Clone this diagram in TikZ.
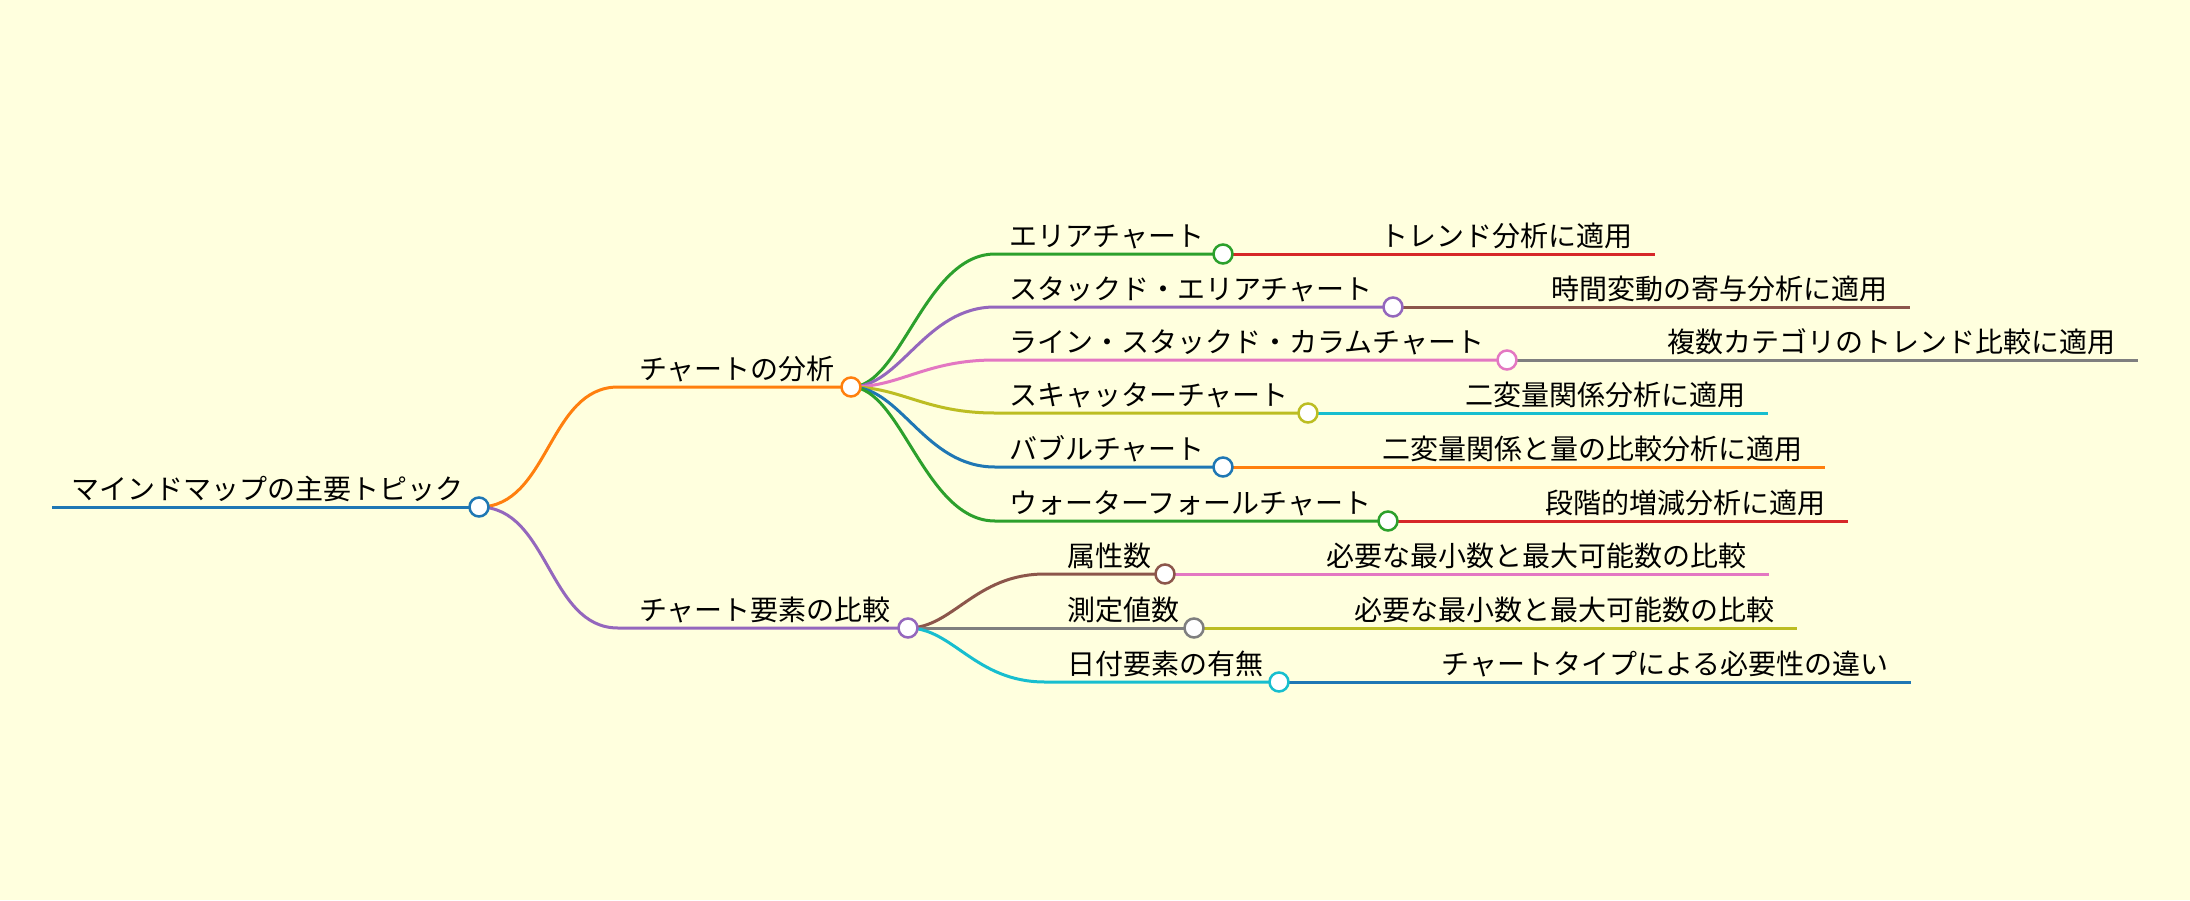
\documentclass[tikz,border=0pt]{standalone}
\usepackage{fontspec}
\setmainfont{Noto Sans CJK JP}
\usetikzlibrary{backgrounds}
\definecolor{paper}{HTML}{FFFFDE}
\definecolor{tBlue}{HTML}{1F77B4}
\definecolor{tOrange}{HTML}{FF7F0E}
\definecolor{tGreen}{HTML}{2CA02C}
\definecolor{tRed}{HTML}{D62728}
\definecolor{tPurple}{HTML}{9467BD}
\definecolor{tBrown}{HTML}{8C564B}
\definecolor{tPink}{HTML}{E377C2}
\definecolor{tGray}{HTML}{7F7F7F}
\definecolor{tOlive}{HTML}{BCBD22}
\definecolor{tCyan}{HTML}{17BECF}

\begin{document}
\begin{tikzpicture}[
    x=1pt, y=-1pt,
    dot/.style={circle, draw, fill=white, line width=2.5pt, minimum size=19pt, inner sep=0pt},
    lbl/.style={anchor=base west, inner sep=0pt, font=\fontsize{28}{32}\selectfont},
    leaf/.style={lbl, anchor=base east, xshift=-22pt, yshift=8pt},
    link/.style={line width=3pt}
]
\node[dot, draw=tBlue] (root) at (479,507) {};
\coordinate (root-s) at (52,507);
\node[lbl] (root-t) at (71,499) {マインドマップの主要トピック};

\node[dot, draw=tOrange] (ana) at (851,387) {};
\coordinate (ana-s) at (618,387);
\node[lbl] (ana-t) at (639,379) {チャートの分析};

\node[dot, draw=tPurple] (cmp) at (908,628) {};
\coordinate (cmp-s) at (618,628);
\node[lbl] (cmp-t) at (639,620) {チャート要素の比較};

\node[dot, draw=tGreen] (area) at (1223,254) {};
\coordinate (area-s) at (995,254);
\coordinate (area-e) at (1655,254);
\node[lbl] (area-t) at (1009,246) {エリアチャート};
\node[leaf] (area-u) at (area-e) {トレンド分析に適用};

\node[dot, draw=tPurple] (stack) at (1393,307) {};
\coordinate (stack-s) at (995,307);
\coordinate (stack-e) at (1910,307);
\node[lbl] (stack-t) at (1009,299) {スタックド・エリアチャート};
\node[leaf] (stack-u) at (stack-e) {時間変動の寄与分析に適用};

\node[dot, draw=tPink] (lsc) at (1507,360) {};
\coordinate (lsc-s) at (995,360);
\coordinate (lsc-e) at (2138,360);
\node[lbl] (lsc-t) at (1009,352) {ライン・スタックド・カラムチャート};
\node[leaf] (lsc-u) at (lsc-e) {複数カテゴリのトレンド比較に適用};

\node[dot, draw=tOlive] (scat) at (1308,413) {};
\coordinate (scat-s) at (995,413);
\coordinate (scat-e) at (1768,413);
\node[lbl] (scat-t) at (1009,405) {スキャッターチャート};
\node[leaf] (scat-u) at (scat-e) {二変量関係分析に適用};

\node[dot, draw=tBlue] (bubl) at (1223,467) {};
\coordinate (bubl-s) at (995,467);
\coordinate (bubl-e) at (1825,467);
\node[lbl] (bubl-t) at (1009,459) {バブルチャート};
\node[leaf] (bubl-u) at (bubl-e) {二変量関係と量の比較分析に適用};

\node[dot, draw=tGreen] (wfall) at (1388,521) {};
\coordinate (wfall-s) at (995,521);
\coordinate (wfall-e) at (1848,521);
\node[lbl] (wfall-t) at (1009,513) {ウォーターフォールチャート};
\node[leaf] (wfall-u) at (wfall-e) {段階的増減分析に適用};

\node[dot, draw=tBrown] (attr) at (1165,574) {};
\coordinate (attr-s) at (1045,574);
\coordinate (attr-e) at (1769,574);
\node[lbl] (attr-t) at (1067,566) {属性数};
\node[leaf] (attr-u) at (attr-e) {必要な最小数と最大可能数の比較};

\node[dot, draw=tGray] (meas) at (1194,628) {};
\coordinate (meas-s) at (1045,628);
\coordinate (meas-e) at (1797,628);
\node[lbl] (meas-t) at (1067,620) {測定値数};
\node[leaf] (meas-u) at (meas-e) {必要な最小数と最大可能数の比較};

\node[dot, draw=tCyan] (date) at (1279,682) {};
\coordinate (date-s) at (1045,682);
\coordinate (date-e) at (1911,682);
\node[lbl] (date-t) at (1067,674) {日付要素の有無};
\node[leaf] (date-u) at (date-e) {チャートタイプによる必要性の違い};

\begin{scope}[on background layer]
\fill[paper] (0,0) rectangle (2190,900);
\draw[link, tBlue] (root-s) -- (root.center);
\draw[link, tOrange] (root.center) .. controls +(70,0) and +(-70,0) .. (ana-s) -- (ana.center);
\draw[link, tPurple] (root.center) .. controls +(70,0) and +(-70,0) .. (cmp-s) -- (cmp.center);

\draw[link, tGreen] (ana.center) .. controls +(50,0) and +(-70,0) .. (area-s) -- (area.center);
\draw[link, tPurple] (ana.center) .. controls +(50,0) and +(-70,0) .. (stack-s) -- (stack.center);
\draw[link, tPink] (ana.center) .. controls +(50,0) and +(-70,0) .. (lsc-s) -- (lsc.center);
\draw[link, tOlive] (ana.center) .. controls +(50,0) and +(-70,0) .. (scat-s) -- (scat.center);
\draw[link, tBlue] (ana.center) .. controls +(50,0) and +(-70,0) .. (bubl-s) -- (bubl.center);
\draw[link, tGreen] (ana.center) .. controls +(50,0) and +(-70,0) .. (wfall-s) -- (wfall.center);

\draw[link, tBrown] (cmp.center) .. controls +(45,0) and +(-70,0) .. (attr-s) -- (attr.center);
\draw[link, tGray] (cmp.center) -- (meas-s) -- (meas.center);
\draw[link, tCyan] (cmp.center) .. controls +(45,0) and +(-70,0) .. (date-s) -- (date.center);

\draw[link, tRed] (area.center) -- (area-e);
\draw[link, tBrown] (stack.center) -- (stack-e);
\draw[link, tGray] (lsc.center) -- (lsc-e);
\draw[link, tCyan] (scat.center) -- (scat-e);
\draw[link, tOrange] (bubl.center) -- (bubl-e);
\draw[link, tRed] (wfall.center) -- (wfall-e);
\draw[link, tPink] (attr.center) -- (attr-e);
\draw[link, tOlive] (meas.center) -- (meas-e);
\draw[link, tBlue] (date.center) -- (date-e);
\end{scope}
\end{tikzpicture}
\end{document}
